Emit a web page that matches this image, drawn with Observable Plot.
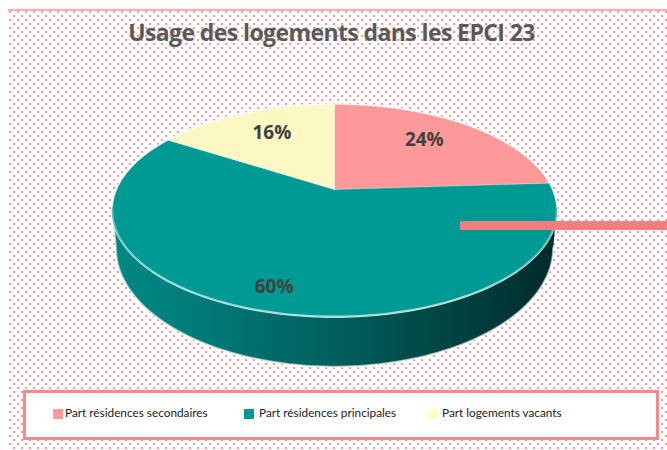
<!DOCTYPE html>
<html lang="fr">
<head>
<meta charset="utf-8">
<script src="https://cdn.jsdelivr.net/npm/d3@7"></script>
<script src="https://cdn.jsdelivr.net/npm/@observablehq/plot@0.6"></script>
<style>
html,body{margin:0;padding:0;background:#fff;}
#page{position:relative;width:667px;height:450px;overflow:hidden;background:#fff;}
#dots{position:absolute;left:8px;top:9px;right:0;bottom:0;border-top:2px solid #ffabab;
  background-image:url("data:image/svg+xml,%3Csvg xmlns='http://www.w3.org/2000/svg' width='8' height='8'%3E%3Crect x='1' y='0' width='2' height='2' fill='%23ff9494'/%3E%3Crect x='5' y='4' width='2' height='2' fill='%23ff9494'/%3E%3C/svg%3E");
  background-position:0 0;}
#chart{position:absolute;left:0;top:0;}
#chart svg{display:block;background:transparent;}
#title{position:absolute;left:0;width:663px;top:16px;text-align:center;font:bold 23px "Open Sans",sans-serif;color:#595959;letter-spacing:-.6px;white-space:nowrap;}
#bar{position:absolute;left:460px;right:0;top:221px;height:9px;background:#f17f7f;}
#legend{position:absolute;left:23px;top:390px;width:630px;height:44px;border:3px solid #f58a8a;background:#fff;box-sizing:content-box;font:11.8px Lato,sans-serif;color:#222;}
.item{position:absolute;top:12px;white-space:nowrap;}
.sw{position:absolute;width:10px;height:10px;}
</style>
</head>
<body>
<div id="page">
  <div id="dots"></div>
  <div id="chart"></div>
  <div id="bar"></div>
  <div id="title">Usage des logements dans les EPCI 23</div>
  <div id="legend"></div>
</div>
<script>
const names = ["Part résidences secondaires", "Part résidences principales", "Part logements vacants"];
const values = [24, 60, 16];
const colors = ["#ff9999", "#009a94", "#fbf8c4"];
const legendColors = ["#ff9999", "#009999", "#ffffcc"];
const legendSwatchX = [27, 218, 402];
const legendTextX = [39, 233, 416];

// projected disc: a circle seen in perspective
const persp = 0.198, radiusX = 217.6, radiusY = 101.8;
const sideScaleX = 0.985, sideScaleY = 1.12, sideDrop = 35;
const labelRadius = 0.75;
const labelNudgeX = [-11, -13, 7], labelNudgeY = [-1, -11, -3];

function project(theta, r = 1, sx = 1, sy = 1, drop = 0) {
  const u = Math.sin(theta) * r, v = Math.cos(theta) * r, w = 1 + persp * v;
  return {x: sx * radiusX * u / w, y: sy * radiusY * v / w - drop};
}
const arcSteps = 240;
function arc(a0, a1, sx, sy, drop) {
  const n = Math.max(2, Math.ceil(Math.abs(a1 - a0) / (2 * Math.PI) * arcSteps));
  return d3.range(n + 1).map(i => project(a0 + (a1 - a0) * i / n, 1, sx, sy, drop));
}
const pie = d3.pie().sort(null)(values);
const slicePts = pie.flatMap((p, i) => [{x: 0, y: 0, name: names[i]},
  ...arc(p.startAngle, p.endAngle).map(q => ({...q, name: names[i]})),
  {x: 0, y: 0, name: names[i]}]);
const frontStart = Math.PI / 2 + Math.asin(persp), frontEnd = 3 * Math.PI / 2 - Math.asin(persp);
const sidePts = [...arc(frontStart, frontEnd), ...arc(frontEnd, frontStart, sideScaleX, sideScaleY, sideDrop)];
const rimPts = arc(frontStart - 0.02, frontEnd + 0.02);
const haloPts = arc(0, 2 * Math.PI);
const labels = pie.map((p, i) => {
  const mid = (p.startAngle + p.endAngle) / 2, q = project(mid, labelRadius);
  return {x: q.x + labelNudgeX[i], y: q.y + labelNudgeY[i], text: values[i] + "%"};
});

function defs() {
  const ns = "http://www.w3.org/2000/svg";
  const d = document.createElementNS(ns, "defs");
  d.innerHTML = `
   <linearGradient id="side" gradientUnits="userSpaceOnUse" x1="112" x2="556" y1="0" y2="0">
     <stop offset="0" stop-color="#008a85"/><stop offset=".2" stop-color="#007a78"/>
     <stop offset=".5" stop-color="#005f5c"/><stop offset=".68" stop-color="#004c4a"/>
     <stop offset=".85" stop-color="#003a3a"/><stop offset="1" stop-color="#002a2b"/>
   </linearGradient>
   <linearGradient id="rim" gradientUnits="userSpaceOnUse" x1="112" x2="556" y1="0" y2="0">
     <stop offset="0" stop-color="#5fc0bd"/><stop offset=".12" stop-color="#8fdcd8"/>
     <stop offset=".8" stop-color="#9fe0dc"/><stop offset="1" stop-color="#5fb8b5"/>
   </linearGradient>`;
  return d;
}

document.getElementById("chart").append(Plot.plot({
  width: 667, height: 450, margin: 0,
  x: {domain: [-334, 333], range: [0, 667], axis: null},
  y: {domain: [189, -261], range: [0, 450], axis: null},
  color: {domain: names, range: colors},
  marks: [
    defs,
    Plot.line(sidePts, {x: "x", y: "y", fill: "url(#side)", stroke: "#fff", strokeOpacity: 0.6, strokeWidth: 2}),
    Plot.line(haloPts, {x: "x", y: "y", stroke: "#fff", strokeOpacity: 0.7, strokeWidth: 3}),
    Plot.line(slicePts, {x: "x", y: "y", z: "name", fill: "name", stroke: "#fff", strokeOpacity: 0.25, strokeWidth: 1}),
    Plot.line(rimPts, {x: "x", y: "y", stroke: "url(#rim)", strokeWidth: 1.6}),
    Plot.text(labels, {x: "x", y: "y", text: "text", fontSize: 19, fontWeight: "bold", fontFamily: "Open Sans", fill: "#404040"})
  ]
}));

const legend = document.getElementById("legend");
names.forEach((n, i) => {
  const sw = document.createElement("div");
  sw.className = "sw";
  sw.style.cssText = `left:${legendSwatchX[i]}px;top:16px;background:${legendColors[i]}`;
  const t = document.createElement("div");
  t.className = "item";
  t.style.left = legendTextX[i] + "px";
  t.textContent = n;
  legend.append(sw, t);
});
</script>
</body>
</html>
